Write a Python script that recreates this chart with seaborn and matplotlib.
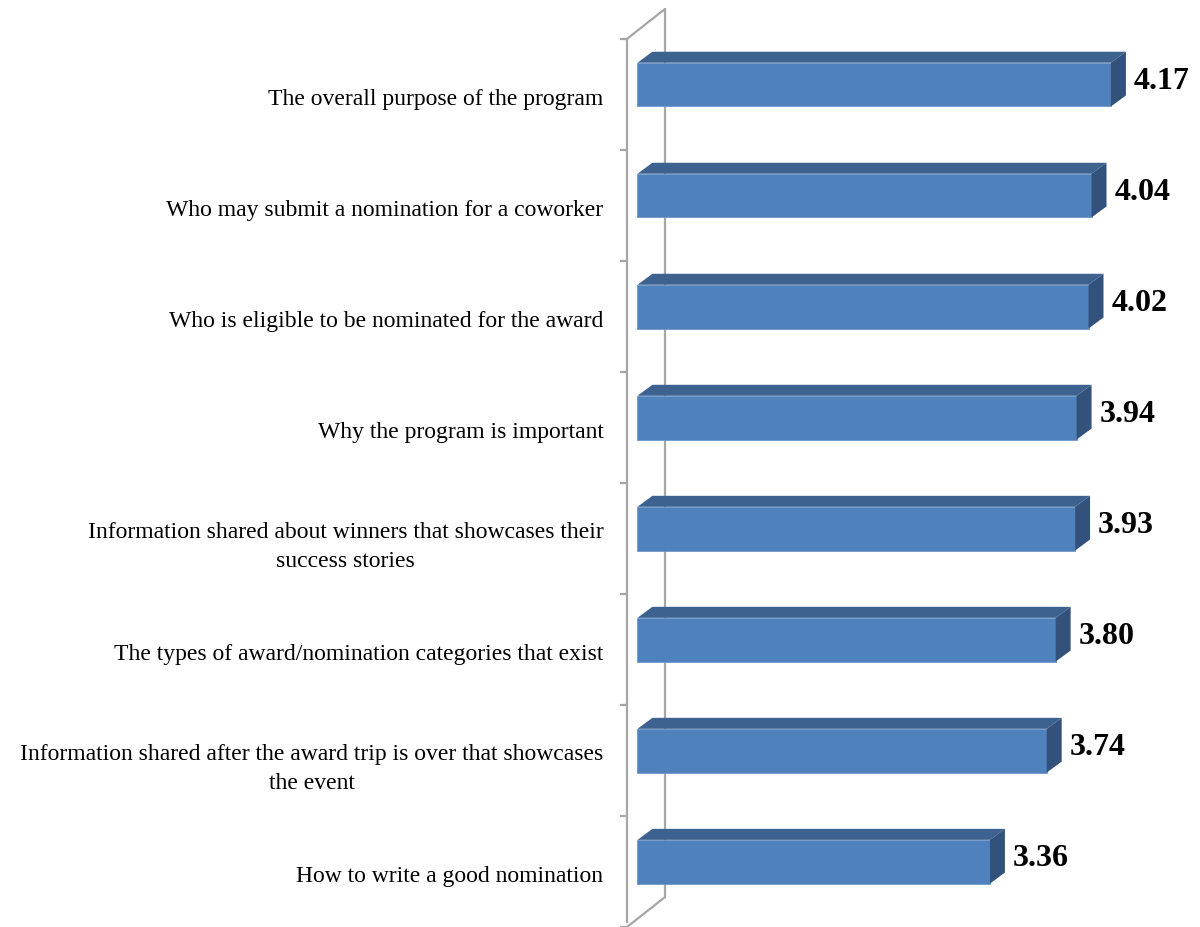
import numpy as np
import pandas as pd
import seaborn as sns
import matplotlib.pyplot as plt
from matplotlib.patches import Polygon

# data
items = [
    "The overall purpose of the program",
    "Who may submit a nomination for a coworker",
    "Who is eligible to be nominated for the award",
    "Why the program is important",
    "Information shared about winners that showcases their\nsuccess stories",
    "The types of award/nomination categories that exist",
    "Information shared after the award trip is over that showcases\nthe event",
    "How to write a good nomination",
]
scores = [4.17, 4.04, 4.02, 3.94, 3.93, 3.80, 3.74, 3.36]
scale_min = 1.0

# colours / 3d look
FRONT = "#4F81BD"
TOP = "#3D628F"
SIDE = "#32527C"
GRAY = "#A6A6A6"
BAR_H = 0.394
DX, DY = 0.100, -0.099      # bar depth offset (data units)
WX, WY = 0.254, -0.269      # wall depth offset
XLIM = (0.930, 4.766)
YLIM = (7.545, -0.771)

sns.set_theme(style="white")
plt.rcParams["font.family"] = ["Liberation Serif", "DejaVu Serif"]

df = pd.DataFrame({"item": items, "score": scores})

fig = plt.figure(figsize=(12, 9.28), dpi=100)
ax = fig.add_axes([627 / 1200, 0, 1 - 627 / 1200, 1])

sns.barplot(data=df, y="item", x="score", orient="h", color=FRONT,
            saturation=1, width=BAR_H, ax=ax, zorder=3,
            edgecolor="#6F97CC", linewidth=0.6)

for p, v in zip(ax.patches, scores):
    p.set_x(scale_min)
    p.set_width(v - scale_min)
    yt = p.get_y()
    yb = yt + p.get_height()
    top = Polygon([(scale_min, yt), (v, yt), (v + DX, yt + DY), (scale_min + DX, yt + DY)],
                  closed=True, facecolor=TOP, edgecolor="none", zorder=3)
    side = Polygon([(v, yt), (v + DX, yt + DY), (v + DX, yb + DY), (v, yb)],
                   closed=True, facecolor=SIDE, edgecolor="none", zorder=3)
    ax.add_patch(top)
    ax.add_patch(side)
    ax.text(v + 0.154, (yt + yb) / 2 - 0.035, f"{v:.2f}", ha="left", va="center",
            fontsize=23, fontweight="bold", color="black", zorder=4)

ax.set_xlim(*XLIM)
ax.set_ylim(*YLIM)

# wall / axis frame
edge_top = -0.412
n = len(items)
edge_bot = edge_top + n
x0 = XLIM[0]
ax.plot([x0, x0 + WX], [edge_top, edge_top + WY], color=GRAY, lw=1.6, zorder=1, clip_on=False)
ax.plot([x0 + WX, x0 + WX], [edge_top + WY, edge_bot + WY], color=GRAY, lw=1.6, zorder=1, clip_on=False)
ax.plot([x0, x0 + WX], [edge_bot, edge_bot + WY], color=GRAY, lw=1.6, zorder=1, clip_on=False)

for s in ["top", "right", "bottom"]:
    ax.spines[s].set_visible(False)
ax.spines["left"].set_color(GRAY)
ax.spines["left"].set_linewidth(1.6)
ax.spines["left"].set_bounds(edge_top, YLIM[0])

ax.set_xticks([])
ax.set_yticks(np.arange(n) + 0.1, labels=items)
ax.set_yticks(np.arange(n + 1) + edge_top, minor=True)
ax.tick_params(axis="y", which="major", length=0, pad=17, labelsize=17, labelcolor="black")
ax.tick_params(axis="y", which="minor", left=True, length=5, width=1.6, color=GRAY, direction="out")
for lbl in ax.get_yticklabels():
    lbl.set_multialignment("center")
    lbl.set_linespacing(1.5)
ax.set_xlabel("")
ax.set_ylabel("")

fig.savefig("out.png", dpi=100)
